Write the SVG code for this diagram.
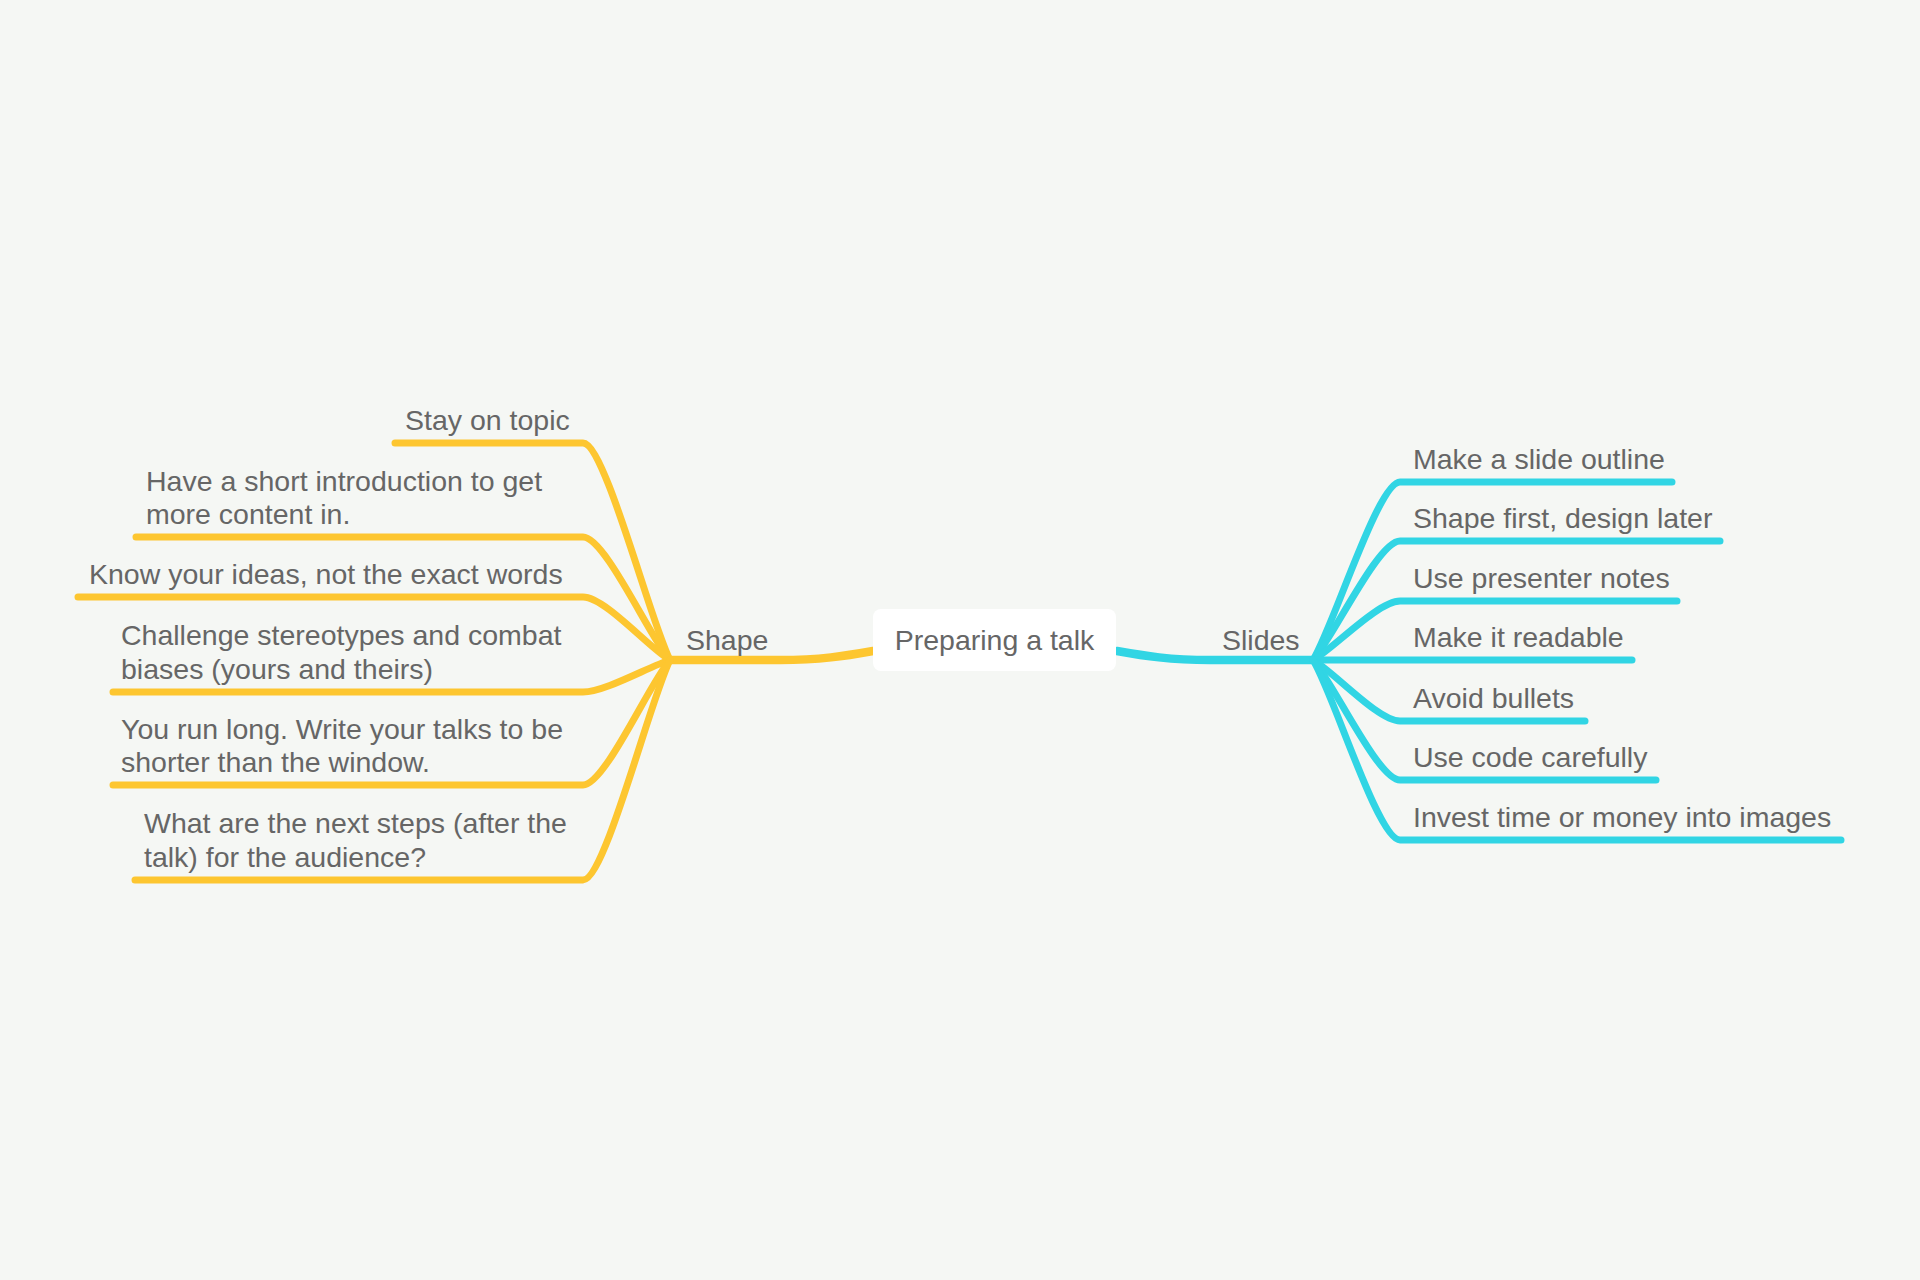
<svg xmlns="http://www.w3.org/2000/svg" width="1920" height="1280" viewBox="0 0 1920 1280">
<style>
text{font-family:"Liberation Sans",Arial,sans-serif;font-size:28.5px;fill:#666666}
.y{fill:none;stroke:#FDC630;stroke-width:7;stroke-linecap:round;stroke-linejoin:round}
.c{fill:none;stroke:#31D5E4;stroke-width:7;stroke-linecap:round;stroke-linejoin:round}
.main{stroke-width:8.5}
</style>
<rect width="1920" height="1280" fill="#F5F7F4"/>
<g id="connectors">
<path class="y main" d="M670 660 L780 660 C820 660 845 656 873 651"/>
<path class="c main" d="M1313 660 L1210 660 C1170 660 1145 656 1117 651"/>
<path class="y" d="M670 660 C650 621 605 443 583 443 L395 443"/>
<path class="y" d="M670 660 C650 638 605 537 583 537 L136 537"/>
<path class="y" d="M670 660 C650 649 605 597 583 597 L78 597"/>
<path class="y" d="M670 660 C650 666 605 692 583 692 L113 692"/>
<path class="y" d="M670 660 C650 682 605 785 583 785 L113 785"/>
<path class="y" d="M670 660 C650 700 605 880 583 880 L135 880"/>
<path class="c" d="M1313 660 C1333 628 1378 482 1400 482 L1672 482"/>
<path class="c" d="M1313 660 C1333 638 1378 541 1400 541 L1720 541"/>
<path class="c" d="M1313 660 C1333 649 1378 601 1400 601 L1677 601"/>
<path class="c" d="M1313 660 L1632 660"/>
<path class="c" d="M1313 660 C1333 671 1378 721 1400 721 L1585 721"/>
<path class="c" d="M1313 660 C1333 682 1378 780 1400 780 L1656 780"/>
<path class="c" d="M1313 660 C1333 692 1378 840 1400 840 L1841 840"/>
</g>
<g id="root">
<rect x="873" y="609" width="243" height="62" rx="8" fill="#FFFFFF"/>
<text x="994.5" y="650" text-anchor="middle">Preparing a talk</text>
</g>
<g id="shape"><text x="686" y="650">Shape</text></g>
<g id="slides"><text x="1222" y="650">Slides</text></g>
<g id="shape-1"><text x="405" y="430">Stay on topic</text></g>
<g id="shape-2"><text x="146" y="491">Have a short introduction to get</text><text x="146" y="524">more content in.</text></g>
<g id="shape-3"><text x="89" y="584">Know your ideas, not the exact words</text></g>
<g id="shape-4"><text x="121" y="645">Challenge stereotypes and combat</text><text x="121" y="679">biases (yours and theirs)</text></g>
<g id="shape-5"><text x="121" y="739">You run long. Write your talks to be</text><text x="121" y="772">shorter than the window.</text></g>
<g id="shape-6"><text x="144" y="833">What are the next steps (after the</text><text x="144" y="867">talk) for the audience?</text></g>
<g id="slides-1"><text x="1413" y="469">Make a slide outline</text></g>
<g id="slides-2"><text x="1413" y="528">Shape first, design later</text></g>
<g id="slides-3"><text x="1413" y="588">Use presenter notes</text></g>
<g id="slides-4"><text x="1413" y="647">Make it readable</text></g>
<g id="slides-5"><text x="1413" y="708">Avoid bullets</text></g>
<g id="slides-6"><text x="1413" y="767">Use code carefully</text></g>
<g id="slides-7"><text x="1413" y="827">Invest time or money into images</text></g>
</svg>
